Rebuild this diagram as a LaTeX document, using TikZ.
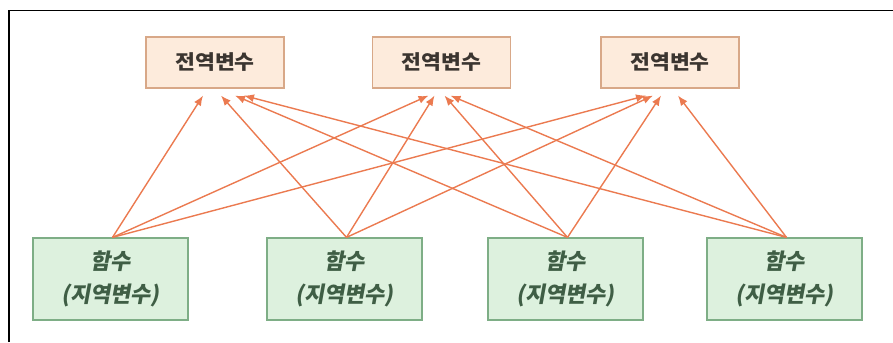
\documentclass[tikz,border=0pt]{standalone}
\usepackage{fontspec}
\newfontfamily\krtop{Noto Sans CJK KR}[FakeStretch=1.08]
\newfontfamily\krbot{Noto Sans CJK KR}[FakeSlant=0.18]
\usetikzlibrary{arrows.meta}
\definecolor{gfill}{HTML}{FDEBDC}
\definecolor{gdraw}{HTML}{D8A888}
\definecolor{gtext}{HTML}{3B3530}
\definecolor{lfill}{HTML}{DDF1DE}
\definecolor{ldraw}{HTML}{7EAE86}
\definecolor{ltext}{HTML}{3F5E45}
\definecolor{arr}{HTML}{EB7A50}
\tikzset{
  globalbox/.style={draw=gdraw, fill=gfill, line width=1.2bp, minimum width=138bp, minimum height=51bp, inner sep=0pt,
    font=\krtop\bfseries\fontsize{20bp}{24bp}\selectfont, text=gtext},
  localbox/.style={draw=ldraw, fill=lfill, line width=1.2bp, minimum width=155bp, minimum height=82bp, inner sep=0pt,
    align=center, font=\krbot\bfseries\fontsize{22bp}{33bp}\selectfont, text=ltext},
  link/.style={draw=arr, line width=1.4bp, -{Latex[length=10bp,width=8bp]}}
}
\begin{document}
\begin{tikzpicture}[x=1bp,y=1bp]
\useasboundingbox (0,0) rectangle (893,342);
\draw[line width=1.6bp, black] (9,0) -- (9,331.5) -- (893,331.5);
% top boxes
\node[globalbox] (t1) at (215,279.5) {전역변수};
\node[globalbox] (t2) at (441.5,279.5) {전역변수};
\node[globalbox] (t3) at (670,279.5) {전역변수};
% bottom boxes
\node[localbox] (b1) at (110.5,63) {함수\\(지역변수)};
\node[localbox] (b2) at (344.5,63) {함수\\(지역변수)};
\node[localbox] (b3) at (565.5,63) {함수\\(지역변수)};
\node[localbox] (b4) at (784.5,63) {함수\\(지역변수)};
% arrow tip targets
\coordinate (t1a) at ([xshift=-12bp,yshift=-7bp]t1.south);
\coordinate (t1b) at ([xshift=6bp,yshift=-7bp]t1.south);
\coordinate (t1c) at ([xshift=20bp,yshift=-7bp]t1.south);
\coordinate (t1d) at ([xshift=29bp,yshift=-7bp]t1.south);
\coordinate (t2a) at ([xshift=-13bp,yshift=-7bp]t2.south);
\coordinate (t2b) at ([xshift=-7bp,yshift=-7bp]t2.south);
\coordinate (t2c) at ([xshift=3bp,yshift=-7bp]t2.south);
\coordinate (t2d) at ([xshift=9bp,yshift=-7bp]t2.south);
\coordinate (t3a) at ([xshift=-24bp,yshift=-7bp]t3.south);
\coordinate (t3b) at ([xshift=-17bp,yshift=-7bp]t3.south);
\coordinate (t3c) at ([xshift=-9bp,yshift=-7bp]t3.south);
\coordinate (t3d) at ([xshift=8bp,yshift=-7bp]t3.south);
% connectors
\foreach \b/\s in {b1/a,b2/b,b3/c,b4/d}{
  \draw[link] ([xshift=2bp]\b.north) -- (t1\s);
  \draw[link] ([xshift=2bp]\b.north) -- (t2\s);
  \draw[link] ([xshift=2bp]\b.north) -- (t3\s);
}
\end{tikzpicture}
\end{document}
